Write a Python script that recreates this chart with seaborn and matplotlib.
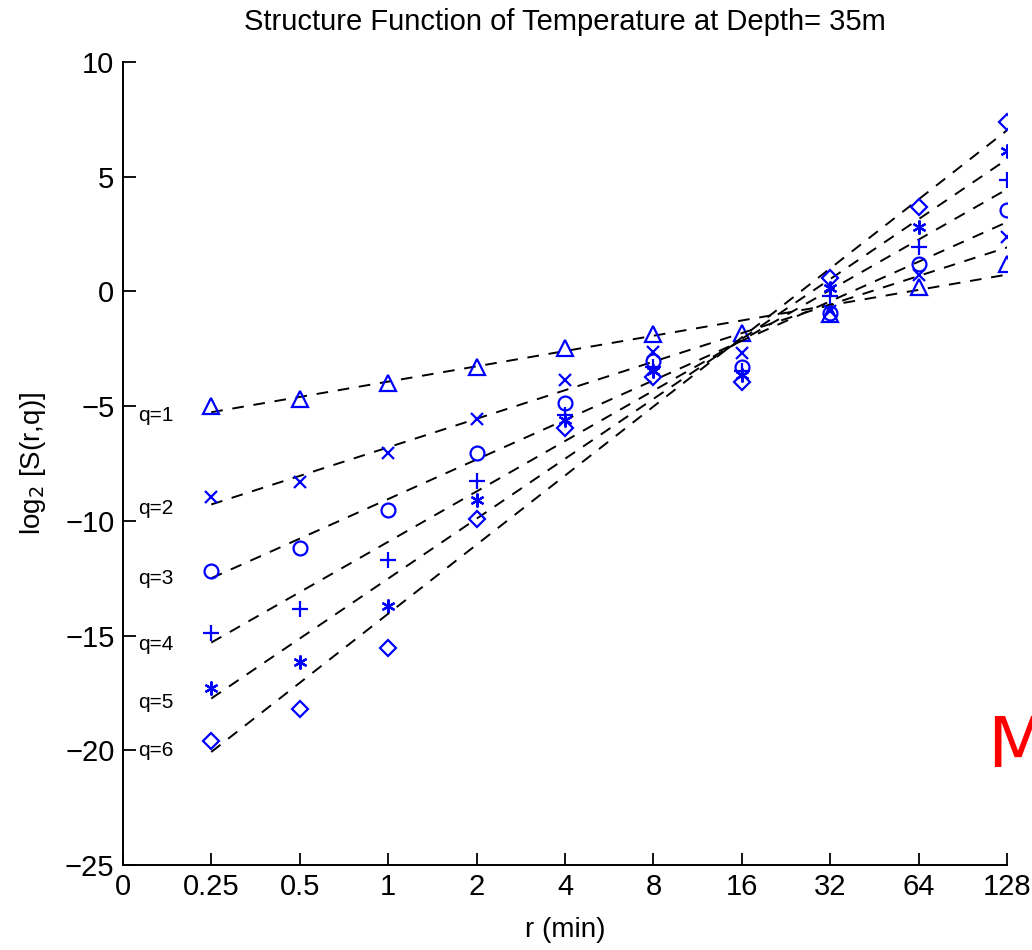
import numpy as np
import pandas as pd
import matplotlib
matplotlib.use("Agg")
import matplotlib.pyplot as plt
import seaborn as sns

sns.set_style("white")
plt.rcParams['font.family'] = ['Liberation Sans Narrow', 'Liberation Sans', 'DejaVu Sans']
plt.rcParams['text.color'] = 'black'
plt.rcParams['xtick.color'] = 'black'
plt.rcParams['ytick.color'] = 'black'

# ---- data ----
r_labels = ['0', '0.25', '0.5', '1', '2', '4', '8', '16', '32', '64', '128']
r_pos = [1, 2, 3, 4, 5, 6, 7, 8, 9, 10]   # positions of 0.25 ... 128
q_names = ['q=1', 'q=2', 'q=3', 'q=4', 'q=5', 'q=6']
q1 = [-5.0, -4.67, -4.0, -3.3, -2.45, -1.85, -1.8, -1.0, 0.2, 1.2]
q2 = [-8.95, -8.3, -7.05, -5.55, -3.85, -2.65, -2.7, -0.85, 0.7, 2.35]
q3 = [-12.2, -11.2, -9.55, -7.05, -4.85, -3.05, -3.3, -0.95, 1.2, 3.55]
q4 = [-14.9, -13.85, -11.7, -8.25, -5.4, -3.3, -3.45, -0.2, 1.95, 4.85]
q5 = [-17.3, -16.15, -13.7, -9.1, -5.6, -3.45, -3.65, 0.15, 2.8, 6.1]
q6 = [-19.6, -18.2, -15.55, -9.9, -5.95, -3.75, -3.95, 0.6, 3.67, 7.4]
series = [q1, q2, q3, q4, q5, q6]
markers = ['^', 'x', 'o', '+', (6, 2, 0), 'D']
msizes = [11, 8, 10, 11, 10, 8]
label_y = [-5.4, -9.45, -12.5, -15.4, -17.9, -20.0]

fig = plt.figure(figsize=(10.32, 9.5), dpi=100)
ax = fig.add_axes([0.119, 0.0895, 0.857, 0.8453])

for vals, m, ms in zip(series, markers, msizes):
    df = pd.DataFrame({'x': r_pos, 'y': vals})
    sns.regplot(data=df, x='x', y='y', ax=ax, ci=None, scatter=False,
                truncate=True,
                line_kws=dict(color='black', lw=1.4, ls=(0, (6, 5))))
    ax.plot(r_pos, vals, ls='none', marker=m, ms=ms, mfc='none',
            mec='blue', mew=1.6, color='blue')

for name, yv in zip(q_names, label_y):
    ax.text(0.17, yv, name, fontsize=15, va='center', ha='left', color='black')

ax.set_xlim(0, 10)
ax.set_ylim(-25, 10)
ax.set_xticks(range(11))
ax.set_xticklabels(r_labels)
ax.set_yticks([-25, -20, -15, -10, -5, 0, 5, 10])
ax.set_xlabel('')
ax.set_ylabel('')
ax.tick_params(direction='in', length=9, width=1.3, labelsize=21,
               bottom=True, left=True, pad=6, colors='black')
for s in ['top', 'right']:
    ax.spines[s].set_visible(False)
for s in ['left', 'bottom']:
    ax.spines[s].set_linewidth(1.4)
    ax.spines[s].set_color('black')

fig.text(0.5475, 0.977, 'Structure Function of Temperature at Depth= 35m',
         ha='center', va='center', fontsize=21, color='black')
fig.text(0.5475, 0.021, 'r (min)', ha='center', va='center', fontsize=20,
         color='black')
fig.text(0.032, 0.512, r'log$_2$ [S(r,q)]', rotation=90, ha='center',
         va='center', fontsize=20, color='black')
fig.text(0.957, 0.213, 'M', color='red', fontsize=50, ha='left',
         va='center', family='DejaVu Sans')

fig.savefig('out.png', dpi=100)
